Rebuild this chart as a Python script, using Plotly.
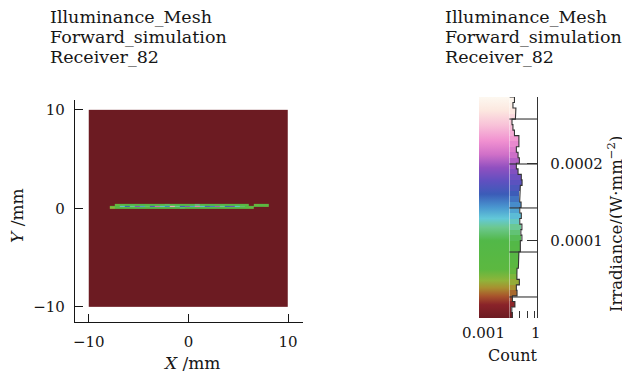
import plotly.graph_objects as go

# ---------------- data ----------------
title_lines = ["Illuminance_Mesh", "Forward_simulation", "Receiver_82"]

# irradiance map (W/mm^2); bricks defined by edges (mm)
x_edges = [-10.0, -7.9, -7.4, -6.9, -6.4, -5.9, -5.4, -4.9, -4.4, -3.9, -3.4, -2.9,
           -2.4, -1.9, -1.4, -0.9, -0.4, 0.1, 0.6, 1.1, 1.6, 2.1, 2.6, 3.1, 3.6,
           4.1, 4.6, 5.1, 5.6, 6.1, 6.6, 7.1, 7.6, 8.1, 10.0]
y_edges = [-10.0, -0.1, 0.1, 0.3, 0.5, 10.0]

strip_bottom = [0.5, 0.75, 0.8, 0.9, 0.85, 1.0, 0.9, 0.8, 1.0, 0.95, 0.85, 1.0, 0.9, 0.95, 1.05, 0.9,
                0.85, 1.0, 0.9, 0.95, 0.8, 1.0, 0.9, 0.85, 0.8, 0.85, 0.75, 0.7, 0.6, 0.0, 0.0, 0.0]
strip_middle = [0.6, 0.9, 1.3, 1.6, 1.2, 1.9, 1.4, 1.1, 1.7, 2.1, 1.3, 1.5, 2.4, 1.2, 1.6, 1.9,
                1.4, 2.2, 1.3, 1.7, 1.5, 2.0, 1.2, 1.6, 1.8, 1.3, 1.1, 0.9, 0.8, 0.7, 0.7, 0.6]
strip_top = [0.0, 0.6, 0.8, 0.9, 1.0, 0.9, 1.0, 0.8, 0.95, 1.0, 0.9, 1.05, 0.9, 1.0, 0.85, 1.0,
             0.95, 1.1, 0.9, 1.0, 0.95, 0.9, 1.0, 0.85, 0.9, 0.95, 0.8, 0.7, 0.0, 0.6, 0.7, 0.65]
strip_scale = 1e-4
background_value = 0.0

irr_min, irr_max = 0.0, 0.000286

# histogram of irradiance levels (relative count), listed from top bin to bottom bin
hist_counts_top_down = [0.0035, 0.0024, 0.005, 0.0044, 0.0019, 0.0024, 0.0035, 0.0105, 0.0105, 0.0056,
                        0.0085, 0.0118, 0.0056, 0.0085, 0.019, 0.023, 0.015, 0.0126, 0.0126, 0.018,
                        0.013, 0.019, 0.013, 0.022, 0.017, 0.022, 0.015, 0.015, 0.0105, 0.0105,
                        0.0092, 0.0066, 0.0064, 0.0118, 0.0056, 0.0066, 0.0021, 0.0039, 0.0018, 0.0021]
hist_base = 0.001
hist_grid_levels = [0.0000272, 0.0000854, 0.0001424, 0.0001993, 0.0002575]
hist_minor_ticks = [0.012, 0.08, 0.5]

x_ticks = [-10, 0, 10]
x_tick_text = ["\u221210", "0", "10"]
y_ticks = [-10, 0, 10]
y_tick_text = ["\u221210", "0", "10"]
cb_ticks = [0.0001, 0.0002]
cb_tick_text = ["0.0001", "0.0002"]

# ---------------- styling ----------------
W, H = 630, 377
PAGE_OFFSET = 8  # body margin of the html page
FONT = "DejaVu Serif"
INK = "#161616"

colorscale = [
    [0.00, "#6c1b22"], [0.06, "#8a2329"], [0.10, "#a8552c"], [0.136, "#a88f30"],
    [0.17, "#8fb43a"], [0.22, "#5cb840"], [0.35, "#52b848"], [0.41, "#6cc890"],
    [0.45, "#62c8d8"], [0.50, "#4a98d0"], [0.56, "#3b5cb8"], [0.62, "#6050c0"],
    [0.68, "#9050c0"], [0.74, "#d070c8"], [0.80, "#f090d0"], [0.87, "#f8c0d8"],
    [0.94, "#fce8e0"], [1.00, "#fdf8f0"],
]


def px_x(p):
    return (p - PAGE_OFFSET) / W


def px_y(p):
    return 1 - (p - PAGE_OFFSET) / H


# build z grid
ncols = len(x_edges) - 1
nrows = len(y_edges) - 1
z = []
for r in range(nrows):
    z.append([background_value] * ncols)
for i in range(len(strip_bottom)):
    z[1][i + 1] = strip_bottom[i] * strip_scale
    z[2][i + 1] = strip_middle[i] * strip_scale
    z[3][i + 1] = strip_top[i] * strip_scale

fig = go.Figure()

fig.add_trace(go.Heatmap(
    x=x_edges, y=y_edges, z=z, zmin=irr_min, zmax=irr_max,
    colorscale=colorscale, zsmooth=False, hoverinfo="skip",
    colorbar=dict(
        x=px_x(478), xanchor="left", y=px_y(318), yanchor="bottom",
        len=221 / H, lenmode="fraction", thickness=30, thicknessmode="pixels",
        xpad=0, ypad=0, outlinewidth=0, showticklabels=False, ticks="",
    ),
    xaxis="x", yaxis="y",
))

# histogram bars
nb = len(hist_counts_top_down)
bw = (irr_max - irr_min) / nb
counts = list(reversed(hist_counts_top_down))
centers = [irr_min + (i + 0.5) * bw for i in range(nb)]
fig.add_trace(go.Bar(
    y=centers, x=[c - hist_base for c in counts], base=[hist_base] * nb,
    orientation="h", width=[bw] * nb,
    marker=dict(color=centers, colorscale=colorscale, cmin=irr_min, cmax=irr_max,
                line=dict(width=0)),
    xaxis="x3", yaxis="y3", hoverinfo="skip", showlegend=False,
))
# step outline
sx, sy = [hist_base], [irr_min]
for i in range(nb):
    lo = irr_min + i * bw
    hi = lo + bw
    sx += [counts[i], counts[i]]
    sy += [lo, hi]
sx.append(hist_base)
sy.append(irr_max)
fig.add_trace(go.Scatter(
    x=sx, y=sy, mode="lines", line=dict(color="#333333", width=1.1),
    xaxis="x3", yaxis="y3", hoverinfo="skip", showlegend=False,
))

for lv in hist_grid_levels:
    fig.add_shape(type="line", xref="x3 domain", yref="y3", x0=0, x1=1, y0=lv, y1=lv,
                  line=dict(color="#333333", width=1.1))

tick_font = dict(family=FONT, size=15, color=INK)

fig.update_layout(
    width=W, height=H, margin=dict(l=0, r=0, t=0, b=0),
    paper_bgcolor="white", plot_bgcolor="white", showlegend=False,
    font=dict(family=FONT, color=INK),
    bargap=0,
    xaxis=dict(domain=[px_x(73), px_x(302)], range=[-11.4, 11.5], showgrid=False, zeroline=False,
               showline=True, linecolor=INK, linewidth=1, ticks="inside", ticklen=8,
               tickcolor=INK, tickvals=x_ticks, ticktext=x_tick_text, tickfont=tick_font,
               ticklabelstandoff=6, anchor="y"),
    yaxis=dict(domain=[px_y(322), px_y(100)], range=[-11.55, 11.0], showgrid=False, zeroline=False,
               showline=True, linecolor=INK, linewidth=1, ticks="inside", ticklen=8,
               tickcolor=INK, tickvals=y_ticks, ticktext=y_tick_text, tickfont=tick_font,
               ticklabelstandoff=6, anchor="x"),
    xaxis3=dict(domain=[px_x(509), px_x(537)], type="log", range=[-3, 0], showgrid=False,
                zeroline=False, showline=False, ticks="inside", ticklen=7, tickcolor="#333333",
                tickvals=hist_minor_ticks, showticklabels=False, anchor="y3"),
    yaxis3=dict(domain=[px_y(318), px_y(97)], range=[irr_min, irr_max], showgrid=False,
                zeroline=False, showline=True, mirror=True, linecolor="#333333", linewidth=1.1,
                side="right", ticks="inside", ticklen=10, tickcolor="#333333",
                tickvals=cb_ticks, ticktext=cb_tick_text, tickfont=tick_font,
                ticklabelstandoff=9, anchor="x3"),
)

ann = []
for i, line in enumerate(title_lines):
    for xpos in (46, 442):
        ann.append(dict(text=line, x=px_x(xpos), y=px_y(17 + 20 * i), xref="paper", yref="paper",
                        xanchor="left", yanchor="middle", showarrow=False,
                        font=dict(family=FONT, size=17.5, color=INK)))
ann.append(dict(text="<i>X</i> /mm", x=px_x(190), y=px_y(363), xref="paper", yref="paper",
                xanchor="center", yanchor="middle", showarrow=False,
                font=dict(family=FONT, size=17, color=INK)))
ann.append(dict(text="<i>Y</i> /mm", x=px_x(15), y=px_y(215), xref="paper", yref="paper",
                xanchor="center", yanchor="middle", showarrow=False, textangle=-90,
                font=dict(family=FONT, size=17, color=INK)))
ann.append(dict(text="Irradiance/(W\u00b7mm<sup>\u22122</sup>)", x=px_x(615), y=px_y(224),
                xref="paper", yref="paper", xanchor="center", yanchor="middle", showarrow=False,
                textangle=-90, font=dict(family=FONT, size=16.5, color=INK)))
ann.append(dict(text="0.001", x=px_x(507), y=px_y(333), xref="paper", yref="paper",
                xanchor="right", yanchor="middle", showarrow=False, font=tick_font))
ann.append(dict(text="1", x=px_x(536), y=px_y(333), xref="paper", yref="paper",
                xanchor="center", yanchor="middle", showarrow=False, font=tick_font))
ann.append(dict(text="Count", x=px_x(512), y=px_y(355), xref="paper", yref="paper",
                xanchor="center", yanchor="middle", showarrow=False,
                font=dict(family=FONT, size=16, color=INK)))
fig.update_layout(annotations=ann)

fig.write_html("out.html")
